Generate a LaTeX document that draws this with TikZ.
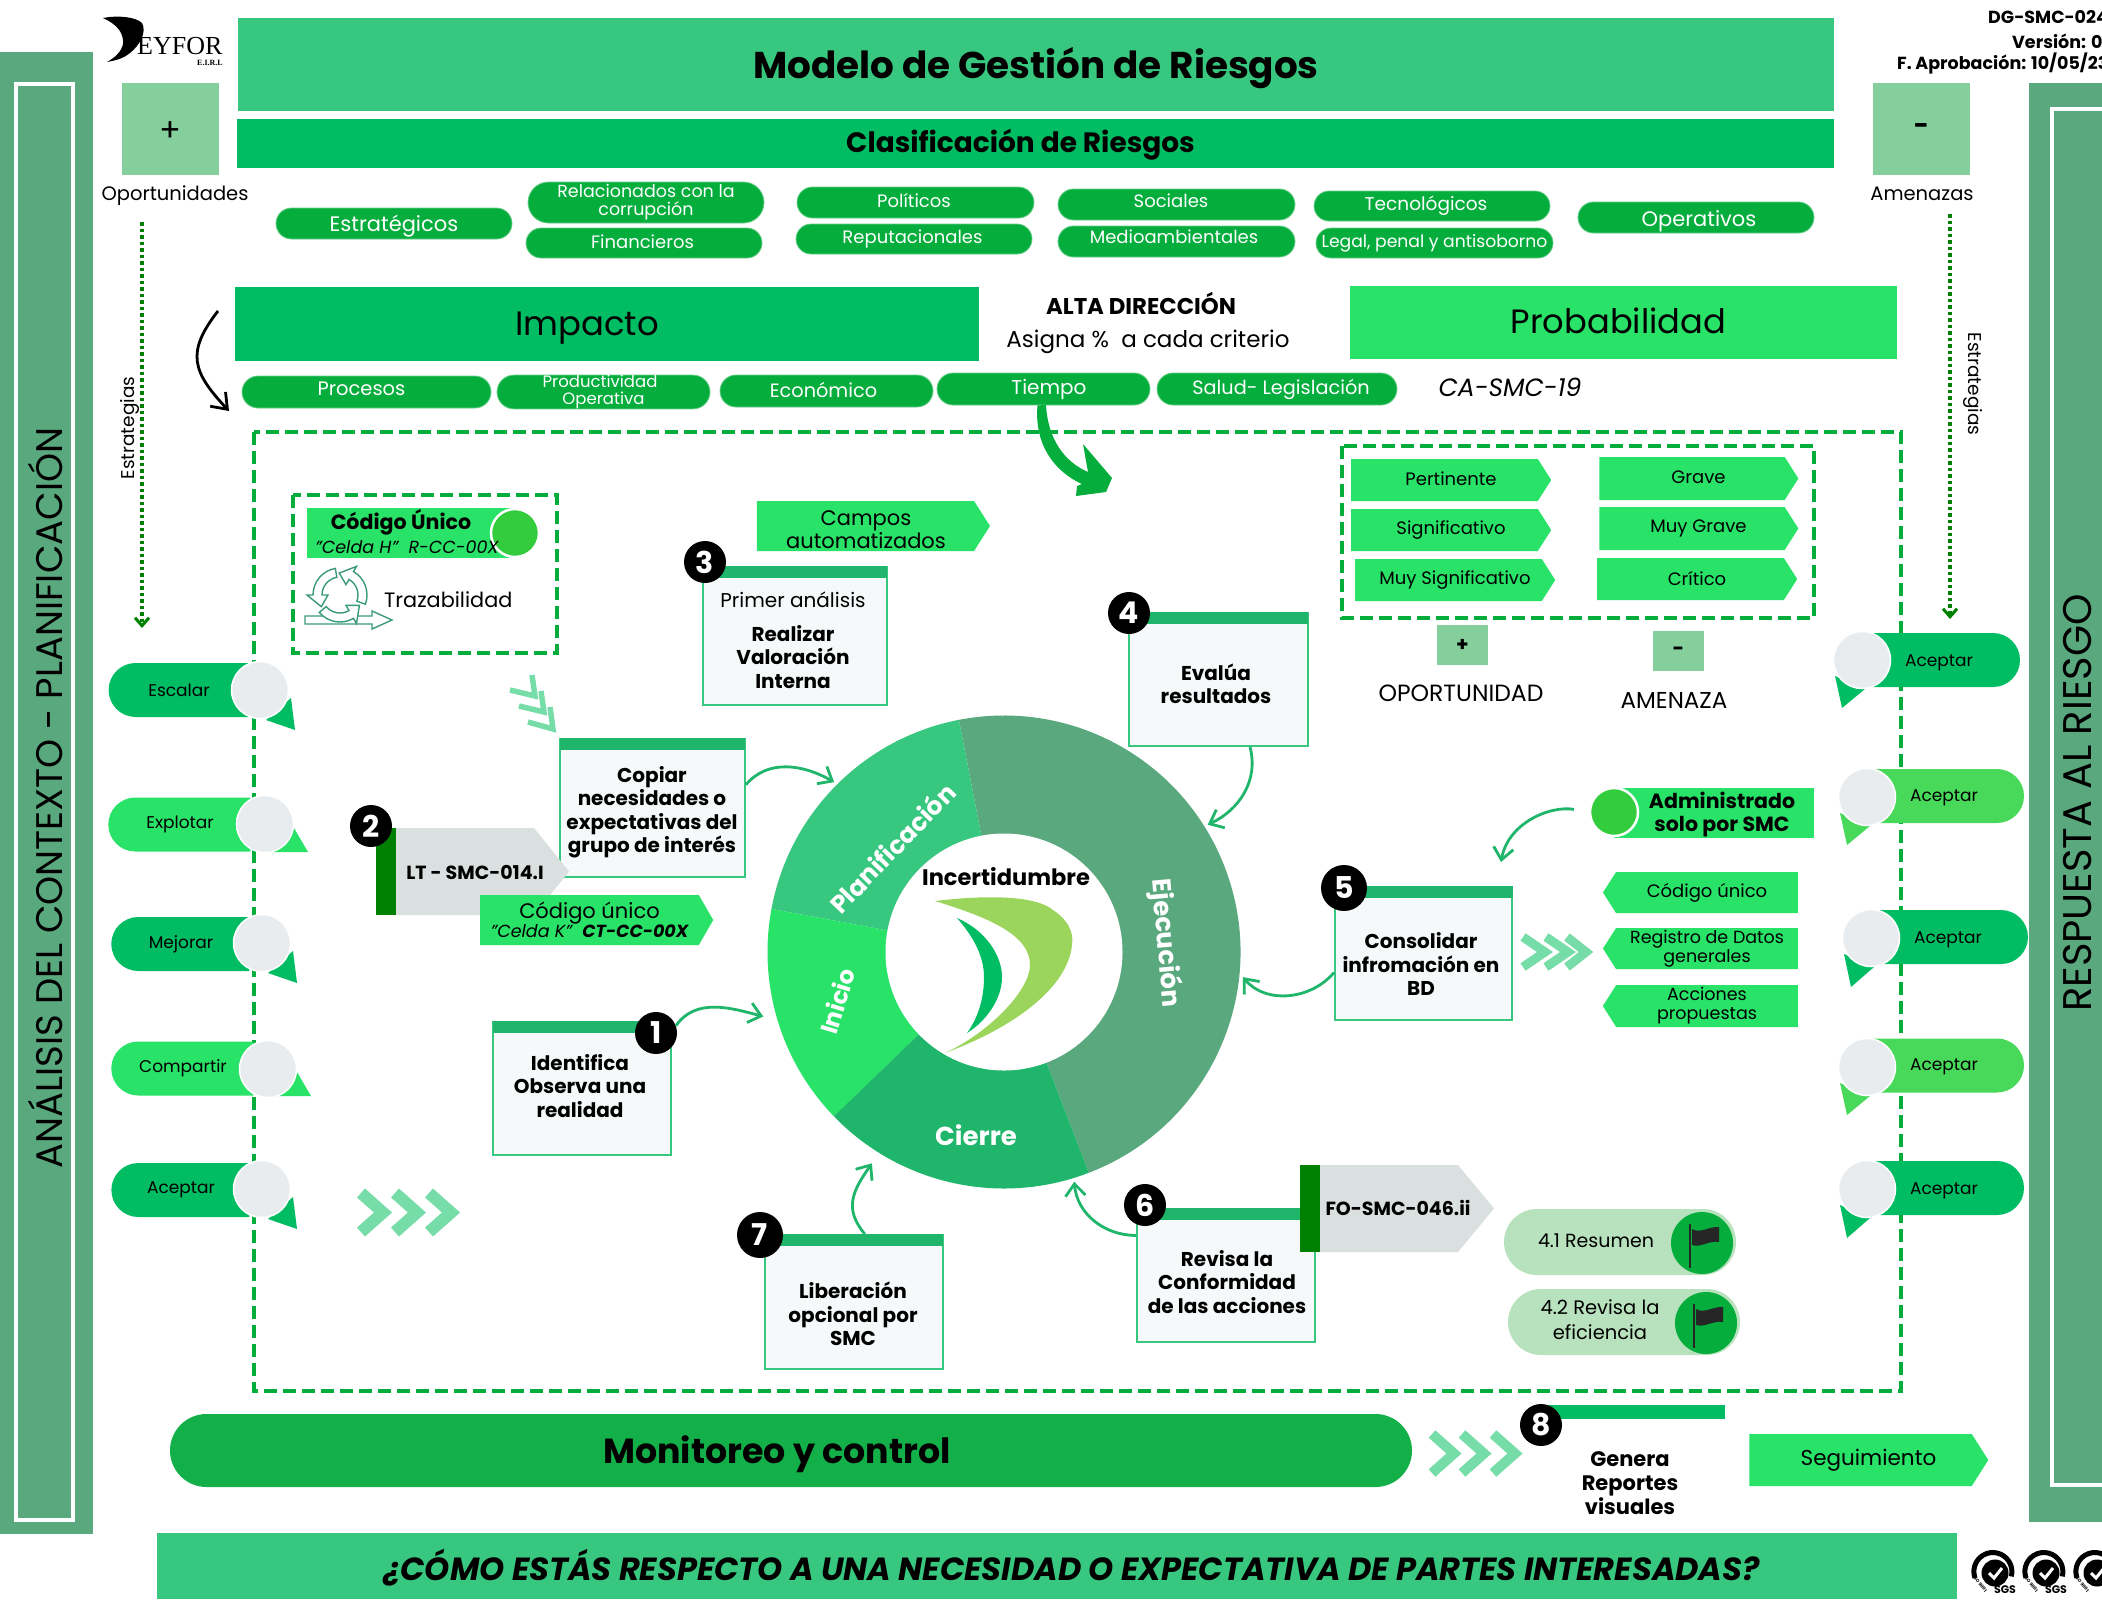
\documentclass[tikz,border=0pt]{standalone}
\usepackage{fontspec}
\setmainfont{Poppins}
\newfontfamily\logofont{Liberation Serif}
\usetikzlibrary{arrows.meta,shapes.misc,shapes.symbols,shapes.geometric}

\newcommand{\fz}[2]{\fontsize{#1}{#2}\selectfont}

\definecolor{verdetitulo}{HTML}{38C77F}
\definecolor{verdebarra}{HTML}{00BC62}
\definecolor{verdevivo}{HTML}{29E268}
\definecolor{verdepill}{HTML}{04AD3C}
\definecolor{verdebanda}{HTML}{5AA87E}
\definecolor{verdeclaro}{HTML}{85CF9D}
\definecolor{verdemonitor}{HTML}{13B04A}
\definecolor{verdecierre}{HTML}{1FB56A}
\definecolor{verdechevron}{HTML}{76DCA8}
\definecolor{verdeoscuro}{HTML}{008000}
\definecolor{verdeaceptar}{HTML}{48D95A}
\definecolor{verdepunto}{HTML}{33CC3C}
\definecolor{verderesumen}{HTML}{B8E1BD}
\definecolor{verdelogo}{HTML}{9BD55B}
\definecolor{verdeicono}{HTML}{3A9A78}
\definecolor{grisetiqueta}{HTML}{DADFDF}
\definecolor{fondocaja}{HTML}{F5F9FA}
\definecolor{griscirculo}{HTML}{E9ECEF}

\tikzset{
  franja/.style={rectangle, inner sep=0, text=black, font=\bfseries},
  pillverde/.style={rounded rectangle, fill=verdepill, draw=verdepill!60!white, line width=.8, inner sep=0, text=white, align=center},
  tagder/.style={signal, signal to=east, signal pointer angle=115, fill=verdevivo, inner sep=0, text=black, align=center},
  tagizq/.style={signal, signal to=west, signal pointer angle=115, fill=verdevivo, inner sep=0, text=black, align=center},
  textogris/.style={inner sep=0, text=black, font=\fz{19}{23}\bfseries},
  cajapaso/.style={rectangle, fill=fondocaja, draw=verdetitulo, line width=2, inner sep=0},
  textopaso/.style={inner sep=0, text=black, align=center, font=\fz{20}{23.5}\bfseries},
  barrapaso/.style={rectangle, fill=verdecierre, inner sep=0, anchor=north},
  numpaso/.style={circle, fill=black, text=white, inner sep=0, minimum size=42, font=\fz{30}{30}\bfseries},
  curva/.style={draw=verdecierre, line width=2.8, -{Straight Barb[length=12pt,width=20pt,line width=2.8pt]}},
  puntos/.style={draw=verdeoscuro, line width=3.5, dash pattern=on 3.5pt off 3pt, -{Straight Barb[length=8pt,width=14pt,line width=3pt]}},
  rayas/.style={draw=verdepill, line width=4, dash pattern=on 13pt off 6pt},
  pillizq/.style={rounded rectangle, rounded rectangle east arc=none, inner sep=0, minimum height=54, text=black, font=\fz{17}{20}},
  pillder/.style={rounded rectangle, rounded rectangle west arc=none, inner sep=0, minimum height=54},
  textoaceptar/.style={inner sep=0, text=black, font=\fz{17}{20}},
  bola/.style={circle, fill=griscirculo, draw=white, line width=1.5, inner sep=0, minimum size=57},
  chevron/.style={draw=verdechevron, line width=12, miter limit=10},
  flecha/.style={draw=verdechevron, line width=9},
  texto/.style={inner sep=0, text=black, align=center},
  textopill/.style={inner sep=0, text=white},
  reciclar/.style={draw=verdeicono, fill=white, line width=1.4, line join=miter}
}

\begin{document}
\begin{tikzpicture}[x=1pt,y=-1pt]
\useasboundingbox (0,0) rectangle (2102,1599);

\node[franja, fill=verdebanda, minimum width=93, minimum height=1482] (bandaizq) at (46.5,793) {};
\draw[draw=white, line width=4] (16,84) rectangle (73,1520);
\node[texto, rotate=90, font=\fz{37}{40}] (contexto) at (45,798) {ANÁLISIS DEL CONTEXTO - PLANIFICACIÓN};
\node[franja, fill=verdebanda, minimum width=73, minimum height=1439] (bandader) at (2065.5,802.5) {};
\draw[draw=white, line width=4] (2052,109) rectangle (2120,1485);
\node[texto, rotate=90, font=\fz{40}{44}] (respuesta) at (2077,803) {RESPUESTA AL RIESGO};

\fill[black] (103,18) .. controls (118,15) and (136,17) .. (142,23) .. controls (147,32) and (140,45) .. (130,53) .. controls (124,58) and (118,60) .. (107,62) .. controls (118,56) and (124,48) .. (123,40) .. controls (122,31) and (116,24) .. (103,18) -- cycle;
\node[texto, font=\logofont\fz{26}{28}, anchor=west] (logoeyfor) at (137,46) {EYFOR};
\node[texto, font=\logofont\fz{8}{9}\bfseries, anchor=east] (logoeirl) at (223,63) {E.I.R.L};

\node[franja, fill=verdetitulo, minimum width=1596, minimum height=93] (titulo) at (1036,64.5) {};
\node[texto, font=\fz{37.3}{42}\bfseries] (titulotxt) at (1036,68.5) {Modelo de Gestión de Riesgos};
\node[franja, fill=verdebarra, minimum width=1597, minimum height=49] (clasificacion) at (1035.5,143.5) {};
\node[texto, font=\fz{28}{32}\bfseries] (clasificaciontxt) at (1020.5,145) {Clasificación de Riesgos};
\node[franja, fill=verdeclaro, minimum width=97, minimum height=92] (mas) at (170.5,129) {};
\node[texto, font=\fz{32}{32}] (mastxt) at (170.5,132) {+};
\node[franja, fill=verdeclaro, minimum width=97, minimum height=92, font=\fz{26}{32}\bfseries] (menos) at (1921.5,129) {-};
\node[texto, font=\fz{19.5}{24}] (oportunidades) at (175,196) {Oportunidades};
\node[texto, font=\fz{19.5}{24}] (amenazas) at (1922,194) {Amenazas};

\node[texto, font=\fz{17.5}{21}\bfseries, anchor=west] (codigodoc) at (1988,17) {DG-SMC-024};
\node[texto, font=\fz{17.5}{21}\bfseries, anchor=west] (version) at (2012,41) {Versión: 0};
\node[texto, font=\fz{17.5}{21}\bfseries, anchor=west] (aprobacion) at (1897,64) {F. Aprobación: 10/05/23};

\node[pillverde, minimum width=236, minimum height=31] (estrategicos) at (394,223.5) {};
\node[textopill, font=\fz{21}{24}] (estrategicostxt) at (394,226.5) {Estratégicos};
\node[pillverde, minimum width=236, minimum height=41, font=\fz{17.5}{18}] (relacionados) at (646,202.5) {Relacionados con la\\corrupción};
\node[pillverde, minimum width=236, minimum height=30, font=\fz{18}{21}] (financieros) at (644,243) {\hspace{-3pt}\raisebox{3pt}{Financieros}};
\node[pillverde, minimum width=237, minimum height=31, font=\fz{18}{21}] (politicos) at (915.5,202.5) {\hspace{-3pt}\raisebox{4pt}{Políticos}};
\node[pillverde, minimum width=236, minimum height=30, font=\fz{18}{21}] (reputacionales) at (914,239) {\hspace{-3pt}Reputacionales};
\node[pillverde, minimum width=237, minimum height=31, font=\fz{18}{21}] (sociales) at (1176.5,204.5) {\hspace{-11pt}\raisebox{7pt}{Sociales}};
\node[pillverde, minimum width=237, minimum height=31, font=\fz{18}{21}] (medioambientales) at (1176.5,241.5) {\hspace{-5pt}\raisebox{9pt}{Medioambientales}};
\node[pillverde, minimum width=236, minimum height=30, font=\fz{18.5}{21}] (tecnologicos) at (1432,206) {\hspace{-12pt}\raisebox{3pt}{Tecnológicos}};
\node[pillverde, minimum width=237, minimum height=30, font=\fz{17.2}{21}] (legal) at (1434.5,243) {Legal, penal y antisoborno};
\node[pillverde, minimum width=236, minimum height=31] (operativos) at (1696,217.5) {};
\node[textopill, font=\fz{21}{24}] (operativostxt) at (1699,221.5) {Operativos};

\node[franja, fill=verdebarra, minimum width=744, minimum height=74] (impacto) at (607,324) {};
\node[texto, font=\fz{33.8}{40}] (impactotxt) at (587,328) {Impacto};
\node[franja, fill=verdevivo, minimum width=547, minimum height=73, font=\fz{33.7}{40}\mdseries] (probabilidad) at (1623.5,322.5) {\hspace{-10pt}\raisebox{3pt}{Probabilidad}};
\node[texto, font=\fz{22.8}{25}\bfseries] (alta) at (1141,303) {ALTA DIRECCIÓN};
\node[texto, font=\fz{23}{27}] (asigna) at (1148,342) {Asigna \%\ \ a cada criterio};
\node[texto, font=\fz{25}{28}\itshape] (casmc) at (1510,387) {CA-SMC-19};

\node[pillverde, minimum width=249, minimum height=32, font=\fz{19.5}{22}] (procesos) at (366.5,392) {\hspace{-10pt}\raisebox{6pt}{Procesos}};
\node[pillverde, minimum width=213, minimum height=32, font=\fz{16.5}{17}] (productividad) at (603.5,392) {\hspace{-7pt}Productividad\\Operativa};
\node[pillverde, minimum width=213, minimum height=32, font=\fz{19.3}{22}] (economico) at (826.5,391) {\hspace{-6pt}\raisebox{3pt}{Económico}};
\node[pillverde, minimum width=213, minimum height=32, font=\fz{20}{22}] (tiempo) at (1043.5,389) {\hspace{11pt}Tiempo};
\node[pillverde, minimum width=240, minimum height=32, font=\fz{19.3}{22}] (salud) at (1277,389) {\hspace{8pt}Salud- Legislación};

\draw[rayas] (254,432) rectangle (1901,1391);

\coordinate (negroini) at (218,311);
\coordinate (negrofin) at (229,411);
\draw[black, line width=2.8, -{Straight Barb[length=14pt,width=21pt,line width=2.8pt]}] (negroini) to[out=-128,in=133,looseness=1.35] (negrofin);

\fill[verdepill] (tiempo.south) ++(-6,0) .. controls (1034,445) and (1055,472) .. (1082,484) -- (1077,486) -- (1076,496) -- (1106,492) -- (1112,478) -- (1083,444) -- (1088,472) .. controls (1065,462) and (1048,440) .. (1046,405) -- cycle;

\coordinate (oporini) at (142,222);
\coordinate (oporfin) at (142,628);
\draw[puntos] (oporini) -- (oporfin);
\coordinate (amenini) at (1950,214);
\coordinate (amenfin) at (1950,619);
\draw[puntos] (amenini) -- (amenfin);
\node[texto, rotate=90, font=\fz{18.5}{21}] (estrategiasizq) at (130,428) {Estrategias};
\node[texto, rotate=-90, font=\fz{18.5}{21}] (estrategiasder) at (1973,384) {Estrategias};

\draw[rayas] (293,495) rectangle (557,653);
\node[franja, fill=verdevivo, minimum width=209, minimum height=50] (barcodigo) at (411.5,533) {};
\node[circle, fill=verdepunto, draw=white, line width=2.5, inner sep=0, minimum size=48] (circodigo) at (515,533) {};
\node[texto, font=\fz{20.6}{25}\bfseries] (codigounico) at (401,522) {Código Único};
\node[texto, font=\fz{17.5}{22}\itshape, anchor=west] (celdah) at (315,547) {"Celda H"\ \ R-CC-00X};
\draw[reciclar] (305,616) -- (372,616) -- (372,611) -- (392,620) -- (372,629) -- (372,624) -- (305,624) -- cycle;
\begin{scope}[shift={(340,595)},rotate=0]
\draw[reciclar] (-20:27pt) arc[start angle=-20, end angle=60, radius=27pt] -- (60:33pt) -- (92:22pt) -- (60:12pt) -- (60:18pt) arc[start angle=60, end angle=-20, radius=18pt] -- cycle;
\end{scope}
\begin{scope}[shift={(340,595)},rotate=120]
\draw[reciclar] (-20:27pt) arc[start angle=-20, end angle=60, radius=27pt] -- (60:33pt) -- (92:22pt) -- (60:12pt) -- (60:18pt) arc[start angle=60, end angle=-20, radius=18pt] -- cycle;
\end{scope}
\begin{scope}[shift={(340,595)},rotate=240]
\draw[reciclar] (-20:27pt) arc[start angle=-20, end angle=60, radius=27pt] -- (60:33pt) -- (92:22pt) -- (60:12pt) -- (60:18pt) arc[start angle=60, end angle=-20, radius=18pt] -- cycle;
\end{scope}
\node[texto, font=\fz{20.8}{26}, anchor=west] (trazabilidad) at (384,600) {Trazabilidad};

\node[tagder, minimum width=233, minimum height=50] (campos) at (865.5,526) {};
\node[texto, font=\fz{21}{23}] (campostxt) at (866,530) {Campos\\automatizados};

\draw[verdechevron, line width=5.5] (510,690) -- (535,696) -- (532,675);
\draw[verdechevron, line width=5.5] (519,706) -- (544,712) -- (541,691);
\draw[verdechevron, line width=5.5] (528,722) -- (553,729) -- (550,707);

\fill[verdebanda] (1004,952) -- ++(-69:236.5pt) arc[start angle=-69, end angle=101, radius=236.5pt] -- cycle;
\fill[verdetitulo] (1004,952) -- ++(101:236.5pt) arc[start angle=101, end angle=169.5, radius=236.5pt] -- cycle;
\fill[verdevivo] (1004,952) -- ++(169.5:236.5pt) arc[start angle=169.5, end angle=224, radius=236.5pt] -- cycle;
\fill[verdecierre] (1004,952) -- ++(224:236.5pt) arc[start angle=224, end angle=291, radius=236.5pt] -- cycle;
\node[circle, fill=white, inner sep=0, minimum size=237] (centro) at (1004,952) {};
\node[circle, inner sep=0, minimum size=480] (ring) at (1004,952) {};
\node[circle, inner sep=0, minimum size=498] (ringfuera) at (1004,952) {};
\node[texto, text=white, rotate=46, font=\fz{25}{28}\bfseries] (planificacion) at (892,848) {Planificación};
\node[texto, text=white, rotate=73, font=\fz{24}{28}\bfseries] (inicio) at (837,1001) {Inicio};
\node[texto, text=white, font=\fz{26}{28}\bfseries] (cierre) at (976,1135) {Cierre};
\node[texto, text=white, rotate=-85, font=\fz{26}{28}\bfseries] (ejecucion) at (1165,943) {Ejecución};
\fill[verdelogo] (935,901) .. controls (985,895) and (1035,895) .. (1053,910) .. controls (1068,920) and (1074,932) .. (1072,945) .. controls (1068,985) and (1020,1025) .. (945,1053) .. controls (990,1032) and (1030,990) .. (1030,965) .. controls (1030,935) and (990,918) .. (935,901) -- cycle;
\fill[verdebarra] (957,918) .. controls (985,930) and (1002,955) .. (1002,977) .. controls (1002,1000) and (985,1022) .. (967,1033) .. controls (980,1015) and (984,995) .. (984,977) .. controls (984,955) and (972,935) .. (957,918) -- cycle;
\node[texto, font=\fz{22.5}{28}\bfseries] (incertidumbre) at (1006,877) {Incertidumbre};

\node[cajapaso, minimum width=178, minimum height=133] (caja1) at (582,1088.5) {};
\node[barrapaso, minimum width=178, minimum height=12] (barra1) at (caja1.north) {};
\node[textopaso] (texto1) at (580,1086) {Identifica\\Observa una\\realidad};
\node[cajapaso, minimum width=185, minimum height=138] (caja2) at (652.5,808) {};
\node[barrapaso, minimum width=185, minimum height=12] (barra2) at (caja2.north) {};
\node[textopaso] (texto2) at (652,812) {Copiar\\necesidades o\\expectativas del\\grupo de interés};
\node[cajapaso, minimum width=184, minimum height=138] (caja3) at (795,636) {};
\node[barrapaso, minimum width=184, minimum height=12] (barra3) at (caja3.north) {};
\node[textopaso] (texto3) at (793,640) {{\mdseries Primer análisis}\\[10pt]Realizar\\Valoración\\Interna};
\node[cajapaso, minimum width=179, minimum height=133] (caja4) at (1218.5,679.5) {};
\node[barrapaso, minimum width=179, minimum height=12] (barra4) at (caja4.north) {};
\node[textopaso] (texto4) at (1216,684) {Evalúa\\resultados};
\node[cajapaso, minimum width=177, minimum height=133] (caja5) at (1423.5,953.5) {};
\node[barrapaso, minimum width=179, minimum height=12] (barra5) at (caja5.north) {};
\node[textopaso] (texto5) at (1421,964) {Consolidar\\infromación en\\BD};
\node[cajapaso, minimum width=178, minimum height=133] (caja6) at (1226,1275.5) {};
\node[barrapaso, minimum width=178, minimum height=12] (barra6) at (caja6.north) {};
\node[textopaso] (texto6) at (1227,1282) {Revisa la\\Conformidad\\de las acciones};
\node[cajapaso, minimum width=178, minimum height=134] (caja7) at (854,1302) {};
\node[barrapaso, minimum width=178, minimum height=12] (barra7) at (caja7.north) {};
\node[textopaso] (texto7) at (853,1314) {Liberación\\opcional por\\SMC};

\node[franja, fill=verdeoscuro, minimum width=20, minimum height=87] (tiralt) at (386,871.5) {};
\fill[grisetiqueta] (396,828) -- (534,828) -- (569,871.5) -- (534,915) -- (396,915) -- cycle;
\node[textogris] (etiquetalt) at (475,872) {LT - SMC-014.I};
\node[tagder, minimum width=233, minimum height=50, signal pointer angle=120, font=\fz{21}{21}] (codigocelda) at (589.5,920) {Código único\\[-2pt]{\fz{17.5}{19}\itshape "Celda K"\ \ \bfseries CT-CC-00X}};

\node[franja, fill=verdeoscuro, minimum width=20, minimum height=87] (tirafo) at (1310,1208.5) {};
\fill[grisetiqueta] (1320,1165) -- (1458,1165) -- (1494,1208.5) -- (1458,1252) -- (1320,1252) -- cycle;
\node[textogris] (etiquetafo) at (1398,1208) {FO-SMC-046.ii};

\node[numpaso] (num1) at (656,1033) {1};
\node[numpaso] (num2) at (371,826) {2};
\node[numpaso] (num3) at (705,562) {3};
\node[numpaso] (num4) at (1129,613) {4};
\node[numpaso, minimum size=46] (num5) at (1344,888) {5};
\node[numpaso] (num6) at (1145,1205) {6};
\node[numpaso, minimum size=46] (num7) at (760,1235) {7};

\draw[curva] (num1.20) to[out=55,in=165] (ringfuera.195);
\draw[curva] (caja2.14) to[out=50,in=150] (ring.135);
\draw[curva] (caja4.-65) to[out=-75,in=25] (ring.32);
\draw[curva] (caja5.192) to[out=-130,in=-50] (ring.-6);
\draw[curva] (caja6.156) to[out=180,in=-85] (ring.-73);
\draw[curva] (caja7.81) to[out=130,in=-125,looseness=1.2] (ringfuera.-122);

\node[pillizq, fill=verdebarra, minimum width=140] (escalar) at (179,690) {Escalar};
\fill[verdebarra] (266,720) -- (295,730) -- (291,698) -- cycle;
\node[bola] (bolaescalar) at (260,690) {};
\node[pillizq, fill=verdevivo, minimum width=142] (explotar) at (180,824.5) {Explotar};
\fill[verdevivo] (265,852) -- (308,852) -- (287,816) -- cycle;
\node[bola] (bolaexplotar) at (265,824) {};
\node[pillizq, fill=verdebarra, minimum width=138] (mejorar) at (181,944) {Mejorar};
\fill[verdebarra] (268,973) -- (297,983) -- (293,951) -- cycle;
\node[bola] (bolamejorar) at (262,943) {};
\node[pillizq, fill=verdevivo, minimum width=142] (compartir) at (183,1068.5) {Compartir};
\fill[verdevivo] (268,1096) -- (311,1096) -- (290,1060) -- cycle;
\node[bola] (bolacompartir) at (268,1069) {};
\node[pillizq, fill=verdebarra, minimum width=138] (aceptarizq) at (181,1190) {Aceptar};
\fill[verdebarra] (268,1219) -- (297,1229) -- (293,1197) -- cycle;
\node[bola] (bolaaceptar) at (262,1189) {};

\node[pillder, fill=verdebarra, minimum width=162] (aceptara) at (1939,660) {};
\node[textoaceptar] (textoa) at (1939,662.5) {Aceptar};
\fill[verdebarra] (1835,676) -- (1842,708) -- (1865,689) -- cycle;
\node[bola] (bolaa) at (1862,660) {};
\node[pillder, fill=verdeaceptar, minimum width=160] (aceptarb) at (1944,796) {};
\node[textoaceptar] (textob) at (1944,797.5) {Aceptar};
\fill[verdeaceptar] (1840,813) -- (1847,845) -- (1870,826) -- cycle;
\node[bola] (bolab) at (1867,797) {};
\node[pillder, fill=verdebarra, minimum width=160] (aceptarc) at (1948,937) {};
\node[textoaceptar] (textoc) at (1948,939.5) {Aceptar};
\fill[verdebarra] (1844,954) -- (1851,987) -- (1874,967) -- cycle;
\node[bola] (bolac) at (1871,938) {};
\node[pillder, fill=verdeaceptar, minimum width=160] (aceptard) at (1944,1065.5) {};
\node[textoaceptar] (textod) at (1944,1067) {Aceptar};
\fill[verdeaceptar] (1840,1083) -- (1847,1115) -- (1870,1096) -- cycle;
\node[bola] (bolad) at (1867,1067) {};
\node[pillder, fill=verdebarra, minimum width=160] (aceptare) at (1944,1188) {};
\node[textoaceptar] (textoe) at (1944,1190.5) {Aceptar};
\fill[verdebarra] (1840,1205) -- (1847,1238) -- (1870,1218) -- cycle;
\node[bola] (bolae) at (1867,1189) {};

\draw[rayas] (1342,446) rectangle (1814,618);
\node[tagder, minimum width=200, minimum height=42, font=\fz{18}{21}] (pertinente) at (1444.5,480) {\hspace{13pt}\raisebox{2pt}{Pertinente}};
\node[tagder, minimum width=200, minimum height=42, font=\fz{18}{21}] (significativo) at (1444.5,530) {\hspace{13pt}Significativo};
\node[tagder, minimum width=200, minimum height=42, font=\fz{18}{21}] (muysignificativo) at (1448.5,580) {\hspace{13pt}Muy Significativo};
\node[tagder, minimum width=199, minimum height=43, font=\fz{18}{21}] (grave) at (1692,478.5) {\hspace{13pt}\raisebox{3pt}{Grave}};
\node[tagder, minimum width=199, minimum height=43, font=\fz{18}{21}] (muygrave) at (1692,528.5) {\hspace{13pt}Muy Grave};
\node[tagder, minimum width=200, minimum height=42, font=\fz{18}{21}] (critico) at (1690.5,579) {\hspace{13pt}\raisebox{2pt}{Crítico}};
\node[franja, fill=verdeclaro, minimum width=51, minimum height=40, font=\fz{20}{20}\bfseries] (masoport) at (1462.5,645) {+};
\node[franja, fill=verdeclaro, minimum width=51, minimum height=40, font=\fz{20}{20}\bfseries] (menosamen) at (1678.5,651) {-};
\node[texto, font=\fz{23.5}{27}] (oportunidad) at (1461,693) {OPORTUNIDAD};
\node[texto, font=\fz{23}{27}] (amenaza) at (1674,700) {AMENAZA};

\node[franja, fill=verdevivo, minimum width=200, minimum height=50] (baradmin) at (1714,813) {};
\node[circle, fill=verdepunto, draw=white, line width=2.5, inner sep=0, minimum size=48] (circadmin) at (1614,812) {};
\node[texto, font=\fz{20.5}{23}\bfseries] (admin) at (1722,815) {Administrado\\solo por SMC};
\coordinate (adminfin) at (1501,862);
\draw[curva, shorten <=15pt] (circadmin.west) to[out=170,in=80] (adminfin);

\draw[flecha] (1523,937) -- (1545,952) -- (1523,967);
\draw[flecha] (1546,937) -- (1568,952) -- (1546,967);
\draw[flecha] (1567,937) -- (1586,952) -- (1567,967);
\node[tagizq, minimum width=195, minimum height=41, font=\fz{18}{21}] (codigoder) at (1707,892.5) {Código único};
\node[tagizq, minimum width=195, minimum height=41, font=\fz{17.5}{19}] (registro) at (1707,948.5) {Registro de Datos\\generales};
\node[tagizq, minimum width=195, minimum height=42, font=\fz{17.5}{19}] (acciones) at (1707,1006) {Acciones\\propuestas};

\draw[chevron] (361,1193) -- (383,1212.5) -- (361,1232);
\draw[chevron] (395,1193) -- (417,1212.5) -- (395,1232);
\draw[chevron] (429,1193) -- (451,1212.5) -- (429,1232);

\node[rounded rectangle, fill=verderesumen, inner sep=0, minimum width=232, minimum height=66] (resumen) at (1620,1242) {};
\node[texto, font=\fz{19}{24}] (txtresumen) at (1596,1241) {4.1 Resumen};
\node[circle, fill=verdepill, inner sep=0, minimum size=62] (circresumen) at (1702,1243) {};
\draw[black!85, line width=1.8] (1690,1224) -- (1690,1268);
\fill[black!85] (1692,1229) .. controls (1700,1234) and (1710,1226) .. (1719,1227) -- (1719,1242) .. controls (1710,1240) and (1700,1248) .. (1692,1245) -- cycle;
\node[rounded rectangle, fill=verderesumen, inner sep=0, minimum width=232, minimum height=66] (revisa) at (1624,1322) {};
\node[texto, font=\fz{19.5}{25}] (txtrevisa) at (1600,1320) {4.2 Revisa la\\eficiencia};
\node[circle, fill=verdepill, inner sep=0, minimum size=62] (circrevisa) at (1706,1323) {};
\draw[black!85, line width=1.8] (1694,1304) -- (1694,1348);
\fill[black!85] (1696,1309) .. controls (1704,1314) and (1714,1306) .. (1723,1307) -- (1723,1322) .. controls (1714,1320) and (1704,1328) .. (1696,1325) -- cycle;

\node[rounded rectangle, fill=verdemonitor, inner sep=0, minimum width=1242, minimum height=73] (monitoreo) at (791,1450.5) {};
\node[texto, font=\fz{34.8}{42}\bfseries] (monitoreotxt) at (777,1454) {Monitoreo y control};
\draw[flecha, line width=10] (1432,1434) -- (1454,1453.5) -- (1432,1473);
\draw[flecha, line width=10] (1462,1434) -- (1484,1453.5) -- (1462,1473);
\draw[flecha, line width=10] (1493,1434) -- (1515,1453.5) -- (1493,1473);
\node[franja, fill=verdebarra, minimum width=184, minimum height=14] (barra8) at (1633,1412) {};
\node[numpaso] (num8) at (1541,1425) {8};
\node[texto, font=\fz{21}{24}\bfseries] (genera) at (1630,1483) {Genera\\Reportes\\visuales};
\node[tagder, minimum width=239, minimum height=52, font=\fz{21.5}{25}] (seguimiento) at (1860.5,1460) {\hspace{16pt}Seguimiento};

\node[franja, fill=verdetitulo, minimum width=1800, minimum height=66] (pregunta) at (1057,1566) {};
\node[texto, font=\fz{32}{36}\bfseries\itshape] (preguntatxt) at (1071.5,1568) {¿CÓMO ESTÁS RESPECTO A UNA NECESIDAD O EXPECTATIVA DE PARTES INTERESADAS?};

\draw[black, line width=5] (1975,1578) arc[start angle=200, end angle=-15, radius=19pt];
\node[circle, fill=black, inner sep=0, minimum size=27] (sello1) at (1995,1573) {};
\draw[white, line width=3] (1989,1573) -- (1994,1578) -- (2002,1568);
\node[texto, font=\fz{11}{12}\bfseries] (sgs1) at (2005,1590) {SGS};
\node[texto, rotate=-50, font=\fz{4.5}{5}\bfseries] (iso1) at (1980,1584) {ISO 9001};
\draw[black, line width=5] (2026,1578) arc[start angle=200, end angle=-15, radius=19pt];
\node[circle, fill=black, inner sep=0, minimum size=27] (sello2) at (2046,1573) {};
\draw[white, line width=3] (2040,1573) -- (2045,1578) -- (2053,1568);
\node[texto, font=\fz{11}{12}\bfseries] (sgs2) at (2056,1590) {SGS};
\node[texto, rotate=-50, font=\fz{4.5}{5}\bfseries] (iso2) at (2031,1584) {ISO 9001};
\draw[black, line width=5] (2077,1578) arc[start angle=200, end angle=-15, radius=19pt];
\node[circle, fill=black, inner sep=0, minimum size=27] (sello3) at (2097,1573) {};
\draw[white, line width=3] (2091,1573) -- (2096,1578) -- (2104,1568);
\node[texto, rotate=-50, font=\fz{4.5}{5}\bfseries] (iso3) at (2082,1584) {ISO 9001};

\end{tikzpicture}
\end{document}
